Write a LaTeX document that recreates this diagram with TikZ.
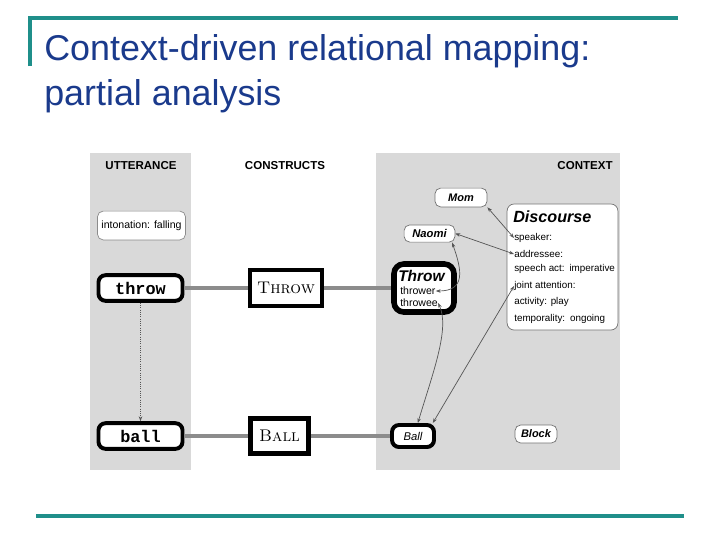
\documentclass[tikz,border=0pt]{standalone}
\usepackage{fontspec}
\newfontfamily\arial{Liberation Sans}
\newfontfamily\courier{Liberation Mono}
\usetikzlibrary{arrows.meta, positioning, calc}
\definecolor{slideteal}{HTML}{1F8F8A}
\definecolor{titleblue}{HTML}{1A3A8C}
\definecolor{panel}{HTML}{D9D9D9}
\definecolor{linkgray}{HTML}{8C8C8C}
\definecolor{wire}{HTML}{555555}

\begin{document}
\begin{tikzpicture}[
  x=0.025cm, y=-0.025cm,
  heading/.style={font=\arial\bfseries\fontsize{8.2}{9}\selectfont, inner sep=0pt},
  lexbox/.style={rectangle, rounded corners=5pt, draw, line width=2.8pt, fill=white,
                 minimum width=2.1cm, minimum height=0.64cm, inner sep=0pt,
                 font=\courier\bfseries\fontsize{12}{12}\selectfont},
  cxnbox/.style={rectangle, draw, line width=3.5pt, fill=white, inner sep=0pt,
                 font=\fontsize{12}{12}\selectfont},
  entity/.style={rectangle, rounded corners=4pt, draw=black!55, line width=0.5pt, fill=white,
                 inner sep=0pt, font=\arial\bfseries\itshape\fontsize{7.8}{8}\selectfont},
  slot/.style={anchor=west, inner sep=0pt, font=\arial\fontsize{7}{8}\selectfont},
  bind/.style={{Stealth[length=3.5pt,width=2.5pt]}-{Stealth[length=3.5pt,width=2.5pt]}, wire, line width=0.5pt},
  formlink/.style={linkgray, line width=3pt},
]
  \useasboundingbox (0,0) rectangle (720,540);

  % slide frame and title
  \draw[slideteal, line width=2.2pt] (30,66) -- (30,18) -- (678,18);
  \draw[slideteal, line width=2.2pt] (36,516) -- (684,516);
  \node[anchor=base west, inner sep=0pt, text=titleblue, font=\arial\fontsize{25.5}{30}\selectfont]
    (title1) at (44,60) {Context-driven relational mapping:};
  \node[anchor=base west, inner sep=0pt, text=titleblue, font=\arial\fontsize{25.5}{30}\selectfont]
    (title2) at (44,105) {partial analysis};

  % panels
  \fill[panel] (90,153) rectangle (191,470);
  \fill[panel] (376,153) rectangle (620,470);
  \node[heading] (hutt) at (141,166) {UTTERANCE};
  \node[heading] (hcxn) at (285,166) {CONSTRUCTS};
  \node[heading] (hctx) at (585,166) {CONTEXT};

  % utterance side
  \node[entity, draw=black!45, font=\arial\fontsize{7.5}{8}\selectfont,
        minimum width=2.2cm, minimum height=0.72cm] (inton) at (141.5,225.5) {intonation: falling};
  \node[lexbox] (throw) at (140.5,288) {throw};
  \node[lexbox] (ball) at (140.5,436) {ball};

  % constructs
  \node[cxnbox, minimum width=1.8cm, minimum height=0.9cm] (THROW) at (286,288) {\textsc{Throw}};
  \node[cxnbox, minimum width=1.45cm, minimum height=0.87cm] (BALL) at (279.5,436) {\textsc{Ball}};

  % context
  \node[lexbox, rounded corners=7pt, line width=4pt, minimum width=1.5cm, minimum height=1.2cm] (Throw) at (424,288) {};
  \node[anchor=west, inner sep=0pt, font=\arial\bfseries\itshape\fontsize{11}{12}\selectfont] (tname) at (398,276) {Throw};
  \node[slot, font=\arial\fontsize{7.5}{8}\selectfont] (thrower) at (400,291) {thrower};
  \node[slot, font=\arial\fontsize{7.5}{8}\selectfont] (throwee) at (400,303) {throwee};
  \node[lexbox, rounded corners=5pt, line width=2.8pt, minimum width=1.05cm, minimum height=0.55cm,
        font=\arial\itshape\fontsize{8}{8}\selectfont] (Ball) at (413,436) {Ball};
  \node[entity, minimum width=1.05cm, minimum height=0.45cm] (Block) at (536,434) {Block};
  \node[entity, minimum width=1.3cm, minimum height=0.47cm] (Mom) at (461,197.5) {Mom};
  \node[entity, font=\arial\bfseries\itshape\fontsize{8}{8}\selectfont,
        minimum width=1.27cm, minimum height=0.43cm] (Naomi) at (429.5,233.5) {Naomi};

  \node[entity, rounded corners=5pt, minimum width=2.77cm, minimum height=3.15cm] (disc) at (562.5,267) {};
  \node[anchor=west, inner sep=0pt, font=\arial\bfseries\itshape\fontsize{11.5}{12}\selectfont] (dname) at (513,217) {Discourse};
  \node[slot] (spk) at (514,238) {speaker:};
  \node[slot] (adr) at (514,254) {addressee:};
  \node[slot] (sact) at (514,269) {speech act:\enspace imperative};
  \node[slot] (jatt) at (514,286) {joint attention:};
  \node[slot] (actv) at (514,302) {activity: play};
  \node[slot] (temp) at (514,319) {temporality:\enspace ongoing};

  % form-meaning links
  \draw[formlink] (throw.east) -- (THROW.west);
  \draw[formlink] (THROW.east) -- (Throw.west);
  \draw[formlink] (ball.east) -- (BALL.west);
  \draw[formlink] (BALL.east) -- (Ball.west);
  \draw[-{Stealth[length=3.5pt,width=2.5pt]}, wire, densely dotted, line width=0.6pt] (throw.south) -- (ball.north);

  % role bindings
  \draw[bind] (Mom.south east) -- (spk.west);
  \draw[bind] (Naomi.east) -- (adr.west);
  \draw[bind] (thrower.east) .. controls +(30,0) and +(10,28) .. ([xshift=-0.08cm]Naomi.south east);
  \draw[bind] (throwee.east) .. controls +(12,25) and +(15,-50) .. ([xshift=0.12cm]Ball.north);
  \draw[bind] (jatt.west) -- ([xshift=-0.08cm]Ball.north east);
\end{tikzpicture}
\end{document}
